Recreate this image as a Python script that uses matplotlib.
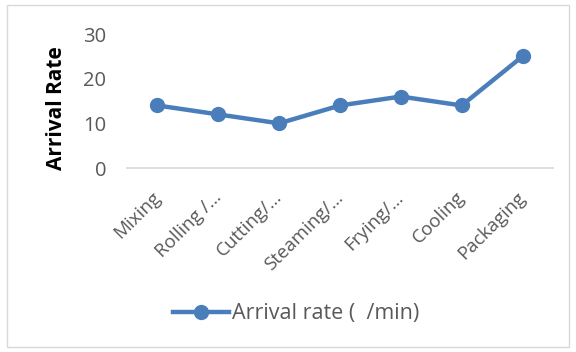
import matplotlib
matplotlib.use("Agg")
import matplotlib.pyplot as plt
from matplotlib.patches import Rectangle

stages = ["Mixing", "Rolling /\u2026", "Cutting/\u2026", "Steaming/\u2026",
          "Frying/\u2026", "Cooling", "Packaging"]
arrival_rate = [14, 12, 10, 14, 16, 14, 25]
y_ticks = [0, 10, 20, 30]

plt.rcParams['font.family'] = ['Open Sans', 'DejaVu Sans']
line_color = '#4a7ebb'
text_color = '#595959'

fig = plt.figure(figsize=(5.76, 3.52), dpi=100)
fig.patches.append(Rectangle((0.012, 0.014), 0.976, 0.972, transform=fig.transFigure,
                             fill=False, edgecolor='#d9d9d9', linewidth=1))
ax = fig.add_axes([0.2205, 0.5227, 0.7395, 0.3807])

x = list(range(len(stages)))
ax.plot(x, arrival_rate, color=line_color, linewidth=3.2, marker='o',
        markersize=10, label='Arrival rate (  /min)')

ax.set_xlim(-0.5, len(stages) - 0.5)
ax.set_ylim(0, 30)
ax.set_yticks(y_ticks)
ax.set_xticks(x)
ax.set_xticklabels(stages, rotation=45, ha='right', va='center',
                   rotation_mode='anchor', fontsize=13.5, color=text_color)
ax.tick_params(axis='y', length=0, labelsize=14.5, labelcolor=text_color, pad=15)
ax.tick_params(axis='x', length=0, pad=19)

for side in ['top', 'right', 'left']:
    ax.spines[side].set_visible(False)
ax.spines['bottom'].set_color('#d9d9d9')
ax.spines['bottom'].set_linewidth(1.2)

ax.set_ylabel('Arrival Rate', fontsize=15, fontweight='bold')
ax.yaxis.set_label_coords(-0.141, 0.45)

fig.legend(loc='center', bbox_to_anchor=(0.514, 0.108), frameon=False, fontsize=15.5,
           handlelength=2.6, labelcolor=text_color, handletextpad=0.1)

fig.savefig('out.png', dpi=100)
